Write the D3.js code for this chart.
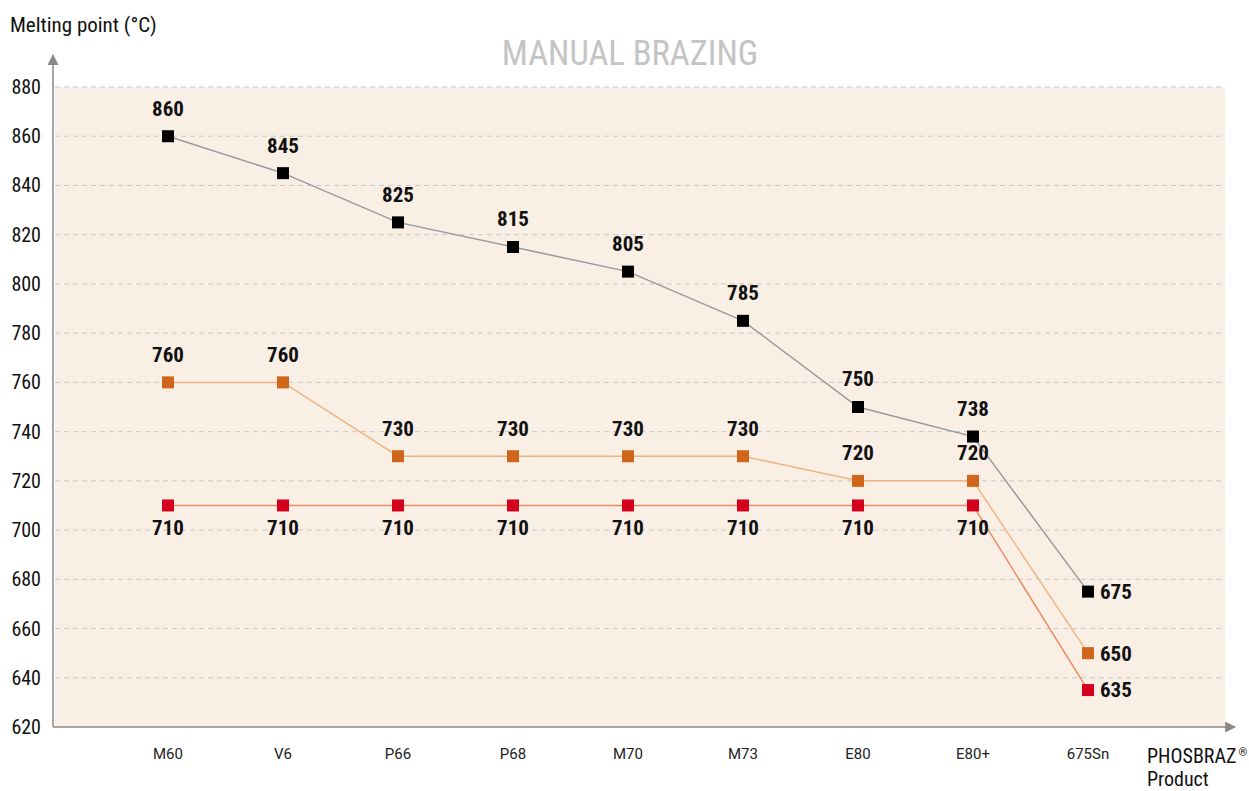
<!DOCTYPE html>
<html>
<head>
<meta charset="utf-8">
<script src="https://cdn.jsdelivr.net/npm/d3@7"></script>
<style>
  body { margin: 0; background: #fff; }
  text { font-family: "Roboto Condensed", "Liberation Sans Narrow", Roboto, sans-serif; }
  text.xtick { font-family: Roboto, "Open Sans", sans-serif; }
</style>
</head>
<body>
<div id="chart"></div>
<script>
// Products along the x axis
const products = ["M60", "V6", "P66", "P68", "M70", "M73", "E80", "E80+", "675Sn"];

// Melting points (°C) for the three series
const upperValues = [860, 845, 825, 815, 805, 785, 750, 738, 675];
const middleValues = [760, 760, 730, 730, 730, 730, 720, 720, 650];
const lowerValues = [710, 710, 710, 710, 710, 710, 710, 710, 635];

const yTicks = [620, 640, 660, 680, 700, 720, 740, 760, 780, 800, 820, 840, 860, 880];

const width = 1249;
const height = 791;
const plot = { left: 55, right: 1225, top: 87, bottom: 727 };

const series = [
    { values: upperValues, marker: "#000000", line: "#9a9a9a", labelPos: "above" },
    { values: middleValues, marker: "#d0661c", line: "#f0b482", labelPos: "above" },
    { values: lowerValues, marker: "#d4001e", line: "#ef8a66", labelPos: "below" }
];

const svg = d3.select("#chart").append("svg")
    .attr("width", width)
    .attr("height", height);

const x = d3.scalePoint()
    .domain(products)
    .range([168, 1088]);

const y = d3.scaleLinear()
    .domain([620, 880])
    .range([plot.bottom, plot.top]);

// Plot background
svg.append("rect")
    .attr("x", plot.left)
    .attr("y", plot.top)
    .attr("width", plot.right - plot.left)
    .attr("height", plot.bottom - plot.top)
    .attr("fill", "#f9efe5");

// Dashed gridlines
svg.append("g")
    .selectAll("line")
    .data(yTicks.filter(d => d > 620))
    .join("line")
    .attr("x1", plot.left)
    .attr("x2", plot.right)
    .attr("y1", d => y(d))
    .attr("y2", d => y(d))
    .attr("stroke", "#c8c8c8")
    .attr("stroke-width", 1)
    .attr("stroke-dasharray", "5,4");

// Y tick labels
svg.append("g")
    .selectAll("text")
    .data(yTicks)
    .join("text")
    .attr("x", 41)
    .attr("y", d => y(d))
    .attr("dy", "0.35em")
    .attr("text-anchor", "end")
    .attr("font-size", 20)
    .attr("fill", "#111")
    .text(d => d);

// X tick labels
svg.append("g")
    .selectAll("text")
    .data(products)
    .join("text")
    .attr("class", "xtick")
    .attr("x", d => x(d))
    .attr("y", 754)
    .attr("dy", "0.35em")
    .attr("text-anchor", "middle")
    .attr("font-size", 15)
    .attr("fill", "#222")
    .text(d => d);

// Axes with arrow heads
const defs = svg.append("defs");
defs.append("marker")
    .attr("id", "arrow")
    .attr("viewBox", "0 0 10 10")
    .attr("refX", 9)
    .attr("refY", 5)
    .attr("markerWidth", 12)
    .attr("markerHeight", 11)
    .attr("markerUnits", "userSpaceOnUse")
    .attr("orient", "auto")
    .append("path")
    .attr("d", "M0,0 L10,5 L0,10 Z")
    .attr("fill", "#888");

svg.append("line")
    .attr("x1", 53).attr("y1", plot.bottom)
    .attr("x2", 53).attr("y2", 55)
    .attr("stroke", "#888").attr("stroke-width", 1.5)
    .attr("marker-end", "url(#arrow)");

svg.append("line")
    .attr("x1", 53).attr("y1", plot.bottom)
    .attr("x2", 1235).attr("y2", plot.bottom)
    .attr("stroke", "#888").attr("stroke-width", 1.5)
    .attr("marker-end", "url(#arrow)");

// Axis titles
svg.append("text")
    .attr("x", 10)
    .attr("y", 32)
    .attr("font-size", 21)
    .attr("fill", "#111")
    .text("Melting point (°C)");

svg.append("text")
    .attr("x", 630)
    .attr("y", 65)
    .attr("text-anchor", "middle")
    .attr("font-size", 34.5)
    .attr("fill", "#c4c4c4")
    .text("MANUAL BRAZING");

const phos = svg.append("text")
    .attr("x", 1147)
    .attr("y", 763)
    .attr("font-size", 20)
    .attr("fill", "#111");
phos.append("tspan").text("PHOSBRAZ");
phos.append("tspan").attr("font-size", 11).attr("dx", 2).attr("dy", -7).text("®");

svg.append("text")
    .attr("x", 1147)
    .attr("y", 786)
    .attr("font-size", 20)
    .attr("fill", "#111")
    .text("Product");

// Series lines, markers and labels
const line = d3.line()
    .x((d, i) => x(products[i]))
    .y(d => y(d));

const size = 12;
const last = products.length - 1;

series.forEach(s => {
    const g = svg.append("g");

    g.append("path")
        .datum(s.values)
        .attr("d", line)
        .attr("fill", "none")
        .attr("stroke", s.line)
        .attr("stroke-width", 1.5);

    g.selectAll("rect")
        .data(s.values)
        .join("rect")
        .attr("x", (d, i) => x(products[i]) - size / 2)
        .attr("y", d => y(d) - size / 2)
        .attr("width", size)
        .attr("height", size)
        .attr("fill", s.marker);

    g.selectAll("text")
        .data(s.values)
        .join("text")
        .attr("x", (d, i) => i === last ? x(products[i]) + 12 : x(products[i]))
        .attr("y", (d, i) => {
            if (i === last) return y(d);
            return s.labelPos === "above" ? y(d) - 28 : y(d) + 22;
        })
        .attr("dy", "0.35em")
        .attr("text-anchor", (d, i) => i === last ? "start" : "middle")
        .attr("font-size", 21)
        .attr("font-weight", "bold")
        .attr("fill", "#111")
        .text(d => d);
});
</script>
</body>
</html>
